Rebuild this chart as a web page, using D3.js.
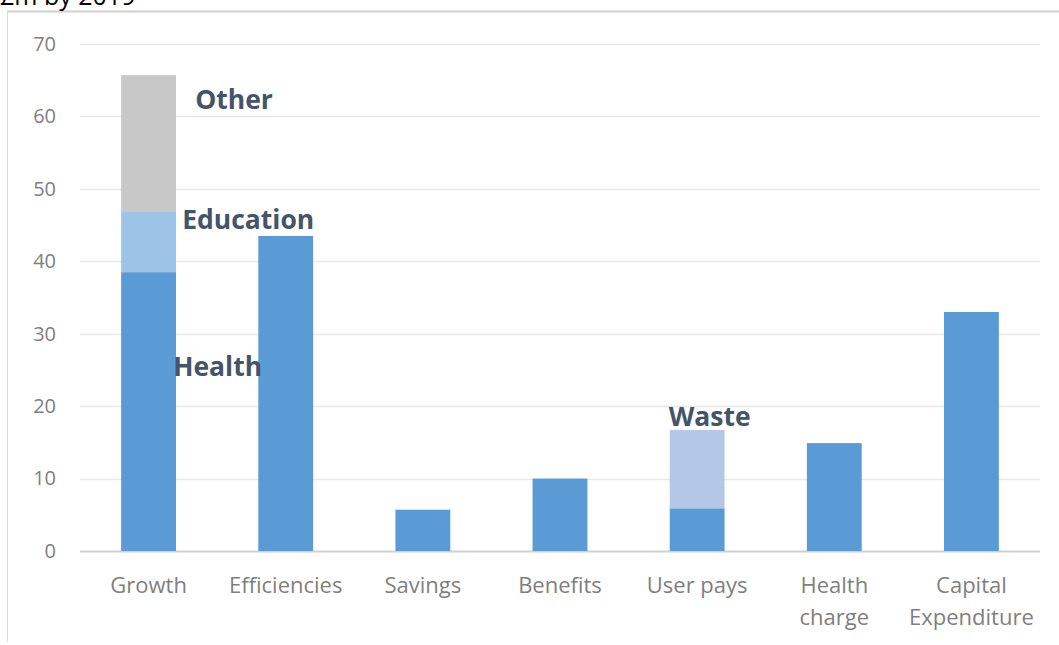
<!DOCTYPE html>
<html><head><meta charset="utf-8">
<script src="https://cdn.jsdelivr.net/npm/d3@7"></script>
<style>body{margin:0;background:#fff;} svg{display:block;}</style>
</head><body>
<svg id="chart" width="1059" height="645"></svg>
<script>
const categories = ["Growth","Efficiencies","Savings","Benefits","User pays","Health charge","Capital Expenditure"];
const categoryLines = [["Growth"],["Efficiencies"],["Savings"],["Benefits"],["User pays"],["Health","charge"],["Capital","Expenditure"]];
const baseValues = [38.5, 43.5, 5.7, 10, 5.9, 14.9, 33.0];
const educationValues = [8.3, 0, 0, 0, 0, 0, 0];
const otherValues = [18.9, 0, 0, 0, 0, 0, 0];
const wasteValues = [0, 0, 0, 0, 10.8, 0, 0];
const yTicks = [0,10,20,30,40,50,60,70];
const title = "£m by 2019";

const svg = d3.select("#chart");
const W = 1059, H = 645;
const m = {left:80, right:19, top:44, bottom:94};
const x = d3.scaleBand().domain(categories).range([m.left, W - m.right]).paddingInner(0.6).paddingOuter(0.3);
const y = d3.scaleLinear().domain([0,70]).range([H - m.bottom, m.top]);
const font = "'Open Sans', sans-serif";

// frame
svg.append("line").attr("x1",7).attr("x2",W).attr("y1",11.5).attr("y2",11.5).attr("stroke","#d0d0d0").attr("stroke-width",2);
svg.append("line").attr("x1",7.5).attr("x2",7.5).attr("y1",11).attr("y2",H-3).attr("stroke","#d9d9d9").attr("stroke-width",1);

svg.append("text").attr("x",0).attr("y",5).attr("font-family",font).attr("font-size",25).attr("fill","#000").text(title);

// gridlines
svg.append("g").selectAll("line").data(yTicks).join("line")
  .attr("x1", m.left).attr("x2", W - m.right)
  .attr("y1", d => Math.round(y(d)) + 0.5).attr("y2", d => Math.round(y(d)) + 0.5)
  .attr("stroke", d => d === 0 ? "#d0d0d0" : "#e8e8e8").attr("stroke-width", d => d===0?2:1.5);

// y axis labels
const yAxis = d3.axisLeft(y).tickValues(yTicks).tickSize(0).tickPadding(0);
const ya = svg.append("g").attr("transform",`translate(56,0)`).call(yAxis);
ya.select(".domain").remove();
ya.selectAll("text").attr("font-family",font).attr("font-size",20).attr("fill","#7f7f7f");

// stacked bars
const layers = [
  {vals: baseValues, color:"#5b9bd5"},
  {vals: educationValues, color:"#9dc3e6"},
  {vals: otherValues, color:"#c9c8c9"},
  {vals: wasteValues, color:"#b4c7e7"}
];
const cum = categories.map(() => 0);
layers.forEach(L => {
  svg.append("g").selectAll("rect").data(categories).join("rect")
    .attr("x", c => x(c)).attr("width", x.bandwidth())
    .attr("y", (c,i) => y(cum[i] + L.vals[i]))
    .attr("height", (c,i) => y(cum[i]) - y(cum[i] + L.vals[i]))
    .attr("fill", L.color);
  categories.forEach((c,i) => cum[i] += L.vals[i]);
});

// x labels
const xl = svg.append("g");
categories.forEach((c,i) => {
  const cx = x(c) + x.bandwidth()/2;
  const t = xl.append("text").attr("x", cx).attr("y", 593)
    .attr("text-anchor","middle").attr("font-family",font).attr("font-size",22).attr("fill","#7f7f7f");
  categoryLines[i].forEach((ln,j) => t.append("tspan").attr("x", cx).attr("dy", j===0?0:32).text(ln));
});

// annotations
const ann = [
  {text:"Other", cat:0, dx:74, v:61.0},
  {text:"Education", cat:0, dx:61, v:44.4},
  {text:"Health", cat:0, dx:52, v:24.2},
  {text:"Waste", cat:4, dx:-1, v:17.2}
];
svg.append("g").selectAll("text").data(ann).join("text")
  .attr("x", d => x(categories[d.cat]) + d.dx).attr("y", d => y(d.v))
  .attr("font-family",font).attr("font-weight","bold").attr("font-size",26.5)
  .attr("fill","#44546a").text(d => d.text);
</script>
</body></html>
